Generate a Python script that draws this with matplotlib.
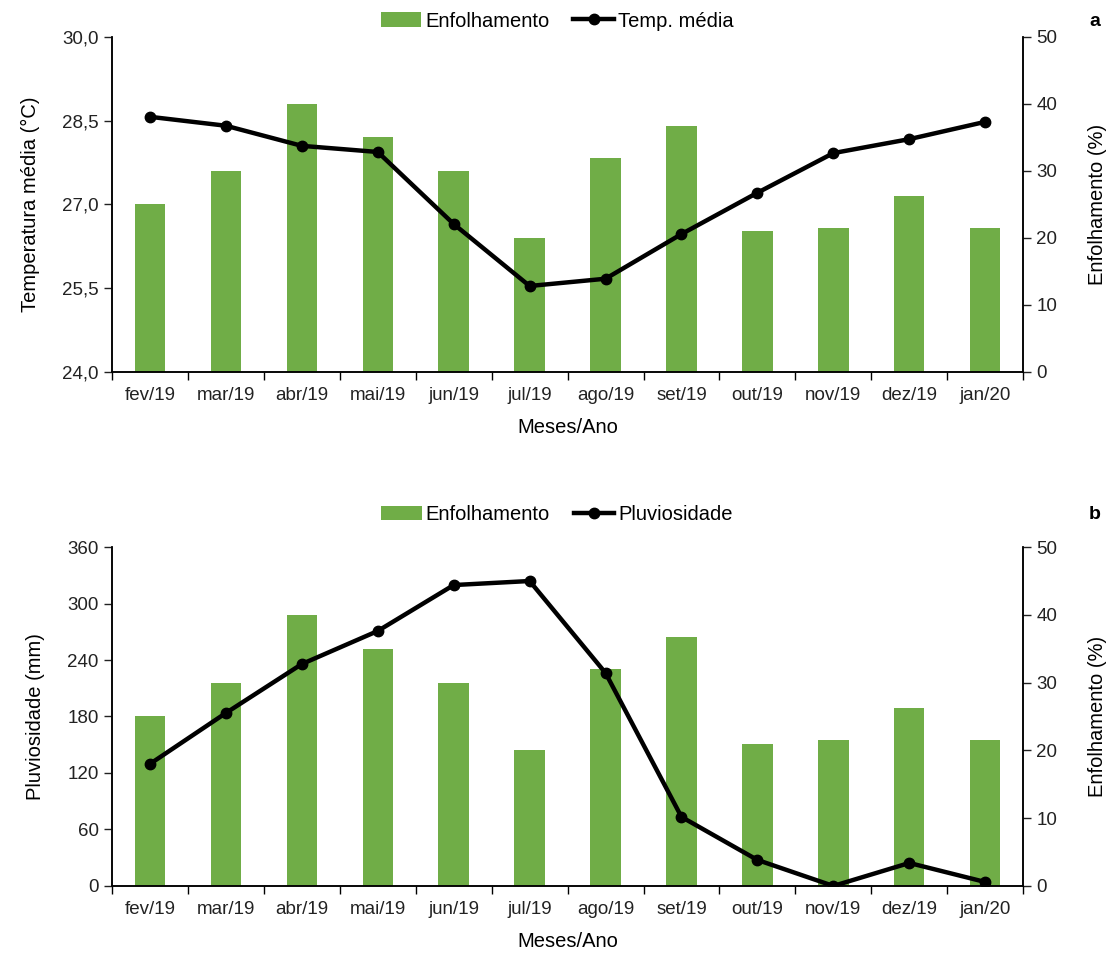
import matplotlib.pyplot as plt
import numpy as np
from matplotlib.ticker import FuncFormatter

plt.rcParams['font.family'] = ['Liberation Sans', 'DejaVu Sans']

meses = ['fev/19', 'mar/19', 'abr/19', 'mai/19', 'jun/19', 'jul/19',
         'ago/19', 'set/19', 'out/19', 'nov/19', 'dez/19', 'jan/20']
enfolhamento = [25, 30, 40, 35, 30, 20, 32, 36.7, 21, 21.5, 26.3, 21.5]
temp_media = [28.57, 28.41, 28.05, 27.94, 26.65, 25.54, 25.67, 26.47, 27.21, 27.92, 28.17, 28.48]
pluviosidade = [129.6, 183.7, 235.7, 270.8, 319.6, 323.9, 226.2, 73.3, 27.6, 0, 24.4, 4.2]

verde = '#70AD47'
x = np.arange(len(meses))

fig = plt.figure(figsize=(11.14, 9.55), dpi=100)
ax_a = fig.add_axes([0.1005, 0.6105, 0.818, 0.3508])
ax_b = fig.add_axes([0.1005, 0.0723, 0.818, 0.3549])


def painel(ax, serie, ylim, yticks, fmt, ylabel, nome_linha, letra, y_leg):
    ax2 = ax.twinx()
    barras = ax2.bar(x, enfolhamento, width=0.4, color=verde, label='Enfolhamento')
    ax2.set_ylim(0, 50)
    ax2.set_yticks([0, 10, 20, 30, 40, 50])
    ax2.set_ylabel('Enfolhamento (%)', fontsize=14.5, labelpad=22)

    linha, = ax.plot(x, serie, color='black', lw=3.2, marker='o', ms=7.5,
                     label=nome_linha)
    ax.set_zorder(ax2.get_zorder() + 1)
    ax.patch.set_visible(False)

    ax.set_xlim(-0.5, len(meses) - 0.5)
    ax.set_ylim(*ylim)
    ax.set_yticks(yticks)
    ax.yaxis.set_major_formatter(FuncFormatter(fmt))
    ax.set_ylabel(ylabel, fontsize=14.5, labelpad=16)

    # rotulos no centro, tracos nas divisas entre meses
    ax.set_xticks(x)
    ax.set_xticklabels(meses)
    ax.set_xticks(np.arange(-0.5, len(meses), 1), minor=True)
    ax.tick_params(axis='x', which='minor', length=6, width=1)
    ax.set_xlabel('Meses/Ano', fontsize=14.5, labelpad=10)

    for a in (ax, ax2):
        a.spines['top'].set_visible(False)
        a.tick_params(labelsize=13.5, width=1, length=6, colors='#222222')
        for s in a.spines.values():
            s.set_linewidth(1.1)
    ax.tick_params(axis='x', which='major', length=0, pad=11)

    fig.legend(handles=[barras, linha], loc='center', ncol=2, frameon=False,
               bbox_to_anchor=(0.5, y_leg), fontsize=14.5, handlelength=2.0,
               handletextpad=0.2, columnspacing=1.2)
    fig.text(0.988, y_leg, letra, fontsize=14, fontweight='bold',
             ha='right', va='center')


painel(ax_a, temp_media, (24, 30), [24, 25.5, 27, 28.5, 30],
       lambda v, p: f'{v:.1f}'.replace('.', ','),
       'Temperatura média (°C)', 'Temp. média', 'a', 0.978)
painel(ax_b, pluviosidade, (0, 360), [0, 60, 120, 180, 240, 300, 360],
       lambda v, p: f'{v:.0f}',
       'Pluviosidade (mm)', 'Pluviosidade', 'b', 0.461)

fig.savefig('out.png', dpi=100)
